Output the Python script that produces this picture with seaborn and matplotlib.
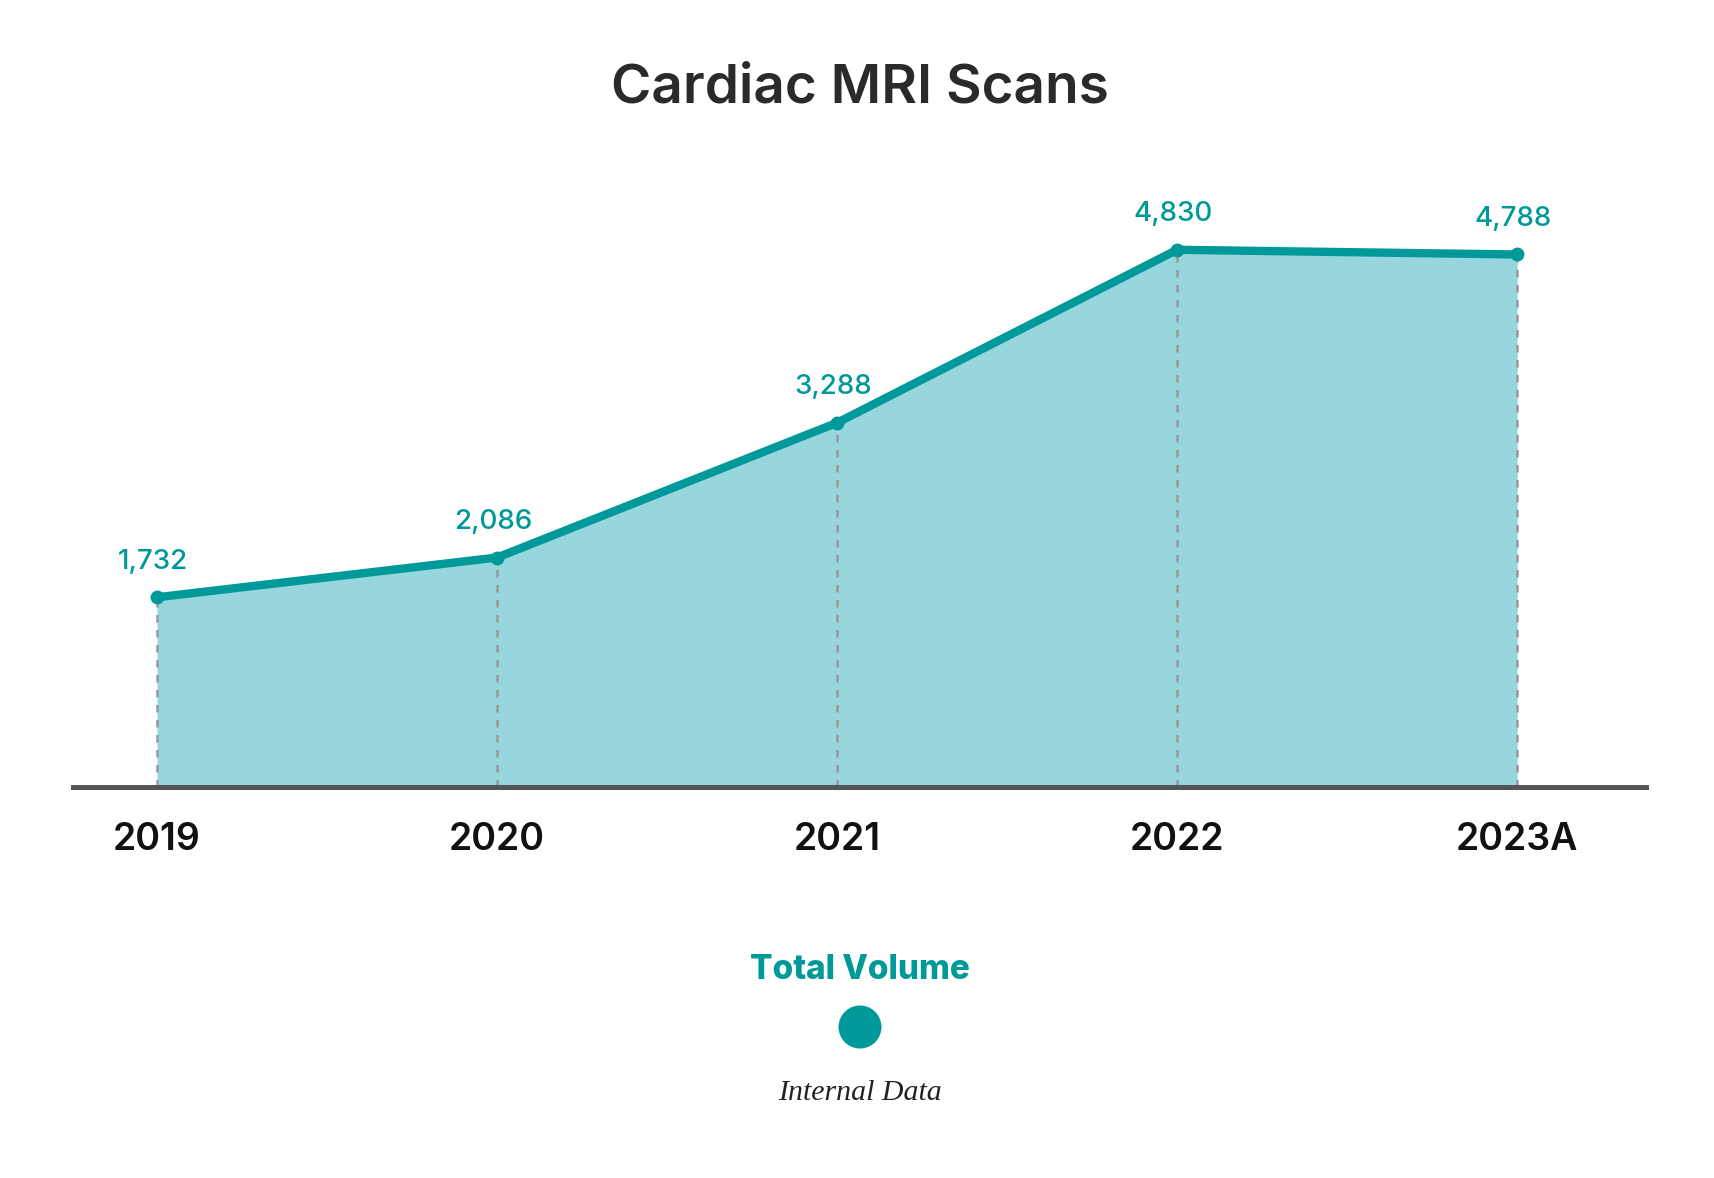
import numpy as np
import matplotlib
matplotlib.use("Agg")
import matplotlib.pyplot as plt
import seaborn as sns
import pandas as pd

# ---- data ----
years = ["2019", "2020", "2021", "2022", "2023A"]
volumes = [1732, 2086, 3288, 4830, 4788]
series_name = "Total Volume"
title_text = "Cardiac MRI Scans"
source_text = "Internal Data"

TEAL = "#009999"
FILL = "#96d6dc"

sns.set_theme(style="white")
plt.rcParams["font.family"] = ["Inter", "DejaVu Sans"]

df = pd.DataFrame({"year": years, "volume": volumes})
df["pos"] = np.arange(len(df))

fig = plt.figure(figsize=(17.14, 11.78), dpi=100)
ax = fig.add_axes([0.0426, 0.3319, 0.918, 0.5408])

ybase = 40
ax.fill_between(df["pos"], ybase, df["volume"], color=FILL, linewidth=0, zorder=1)
ax.vlines(df["pos"], ybase, df["volume"], colors="#999999", linestyles=(0, (3, 3)),
          linewidth=1.8, zorder=2)
sns.lineplot(data=df, x="pos", y="volume", ax=ax, color=TEAL, linewidth=6,
             marker="o", markersize=10, markeredgewidth=0, zorder=3)

for p, v in zip(df["pos"], df["volume"]):
    ax.annotate(f"{v:,}", (p, v), xytext=(-3, 25.5), textcoords="offset points",
                ha="center", va="center", color=TEAL, fontsize=20,
                fontweight="medium")

ax.set_xlim(-0.247, 4.38)
ax.set_ylim(ybase, 5720)
ax.set_xticks(df["pos"])
ax.set_xticklabels(df["year"], fontsize=27, fontweight="semibold", color="#111111")
ax.set_yticks([])
ax.set_xlabel("")
ax.set_ylabel("")
ax.tick_params(axis="x", length=0, pad=25)
for s in ["top", "left", "right"]:
    ax.spines[s].set_visible(False)
ax.spines["bottom"].set_color("#555555")
ax.spines["bottom"].set_linewidth(3.6)
ax.spines["bottom"].set_zorder(4)

fig.text(0.5015, 0.925, title_text, ha="center", va="center", fontsize=39.5,
         fontweight="semibold", color="#2a2a2a")

fig.text(0.5015, 1 - 970 / 1178, series_name, ha="center", va="center",
         fontsize=24, fontweight="heavy", color=TEAL)
fig.add_artist(matplotlib.patches.Ellipse((860 / 1714, 1 - 1027 / 1178),
               43 / 1714, 43 / 1178, transform=fig.transFigure,
               color=TEAL, linewidth=0))
fig.text(0.5015, 1 - 1093 / 1178, source_text, ha="center", va="center",
         fontsize=21.5, fontstyle="italic", color="#222222",
         family=["Liberation Serif", "DejaVu Serif"])

fig.savefig("out.png", dpi=100, facecolor="white")
